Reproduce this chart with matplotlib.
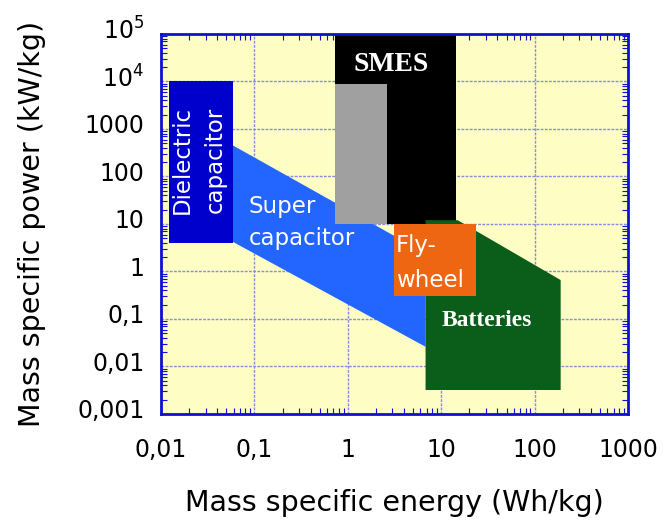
import matplotlib
matplotlib.use("Agg")
import matplotlib.pyplot as plt
import matplotlib.transforms as mtransforms
from matplotlib.patches import Polygon
from matplotlib.ticker import LogLocator, NullFormatter

plt.rcParams['mathtext.default'] = 'regular'

# ---- data (energy Wh/kg, power kW/kg) ----
x_ticks = [0.01, 0.1, 1, 10, 100, 1000]
x_labels = ['0,01', '0,1', '1', '10', '100', '1000']
y_ticks = [0.001, 0.01, 0.1, 1, 10, 100, 1000, 1e4, 1e5]
y_labels = ['0,001', '0,01', '0,1', '1', '10', '100', '1000', '$10^4$', '$10^5$']

supercap_x = [0.059, 6.8, 6.8, 0.059]
supercap_y = [450, 2.4, 0.026, 4.2]

dielectric_x = [0.0122, 0.059, 0.059, 0.0122]
dielectric_y = [1e4, 1e4, 4.0, 4.0]

smes_x = [0.73, 14.5, 14.5, 0.73]
smes_y = [1e5, 1e5, 10, 10]

gray_x = [0.73, 2.65, 2.65, 0.73]
gray_y = [9000, 9000, 10, 10]

batt_x = [6.8, 15, 190, 190, 6.8]
batt_y = [12, 12, 0.66, 0.0032, 0.0032]

fly_x = [3.15, 23.4, 23.4, 3.15]
fly_y = [10, 10, 0.3, 0.3]

fig = plt.figure(figsize=(6.66, 5.22), dpi=100)
ax = fig.add_axes([0.2417, 0.2069, 0.9430 - 0.2417, 0.9349 - 0.2069])
ax.set_xscale('log')
ax.set_yscale('log')
ax.set_xlim(0.01, 1000)
ax.set_ylim(0.001, 1e5)
ax.set_facecolor('#FDFDC4')

ax.grid(True, which='major', color='#8C8CDC', linestyle=(0, (2, 1)), linewidth=1.0)
ax.set_axisbelow(True)

shapes = [
    (supercap_x, supercap_y, '#2266FF'),
    (dielectric_x, dielectric_y, '#0000CC'),
    (smes_x, smes_y, '#000000'),
    (gray_x, gray_y, '#A0A0A0'),
    (batt_x, batt_y, '#0A5E1A'),
    (fly_x, fly_y, '#EE6611'),
]
for xs, ys, c in shapes:
    ax.add_patch(Polygon(list(zip(xs, ys)), closed=True, facecolor=c,
                         edgecolor='none', zorder=2))

comic = 'DejaVu Sans'
fs_in = 16.5
ax.text(0.0168, 222, 'Dielectric', rotation=90, color='white', fontsize=fs_in,
        family=comic, ha='center', va='center', zorder=3)
ax.text(0.0379, 222, 'capacitor', rotation=90, color='white', fontsize=fs_in,
        family=comic, ha='center', va='center', zorder=3)
ax.text(0.0875, 22.8, 'Super', color='white', fontsize=fs_in, family=comic,
        ha='left', va='center', zorder=3)
ax.text(0.0875, 5.07, 'capacitor', color='white', fontsize=fs_in, family=comic,
        ha='left', va='center', zorder=3)
ax.text(3.25, 3.6, 'Fly-', color='white', fontsize=fs_in, family=comic,
        ha='left', va='center', zorder=3)
ax.text(3.25, 0.66, 'wheel', color='white', fontsize=fs_in, family=comic,
        ha='left', va='center', zorder=3)
ax.text(2.9, 23300, 'SMES', color='white', fontsize=20, family='Liberation Serif',
        weight='bold', ha='center', va='center', zorder=3)
ax.text(31, 0.095, 'Batteries', color='white', fontsize=17, family='Liberation Serif',
        weight='bold', ha='center', va='center', zorder=3)

ax.set_xticks(x_ticks)
ax.set_xticklabels(x_labels)
ax.set_yticks(y_ticks)
ax.set_yticklabels(y_labels)
ax.xaxis.set_minor_locator(LogLocator(base=10, subs=range(2, 10), numticks=20))
ax.yaxis.set_minor_locator(LogLocator(base=10, subs=range(2, 10), numticks=20))
ax.xaxis.set_minor_formatter(NullFormatter())
ax.yaxis.set_minor_formatter(NullFormatter())

ax.tick_params(which='both', direction='in', top=True, right=True, color='#1010D0',
               labelsize=17, labelcolor='black')
ax.tick_params(which='major', length=0, pad=17)
ax.tick_params(axis='y', which='major', pad=12)
ax.tick_params(which='minor', length=4, width=0.8)

for sp in ax.spines.values():
    sp.set_color('#1010D0')
    sp.set_linewidth(2)

off = mtransforms.ScaledTranslation(0, 5 / 100, fig.dpi_scale_trans)
for lab in ax.get_yticklabels():
    lab.set_transform(lab.get_transform() + off)

ax.set_xlabel('Mass specific energy (Wh/kg)', fontsize=20.5, labelpad=20)
ax.set_ylabel('Mass specific power (kW/kg)', fontsize=20.5, labelpad=22)

fig.savefig('out.png', dpi=100)
